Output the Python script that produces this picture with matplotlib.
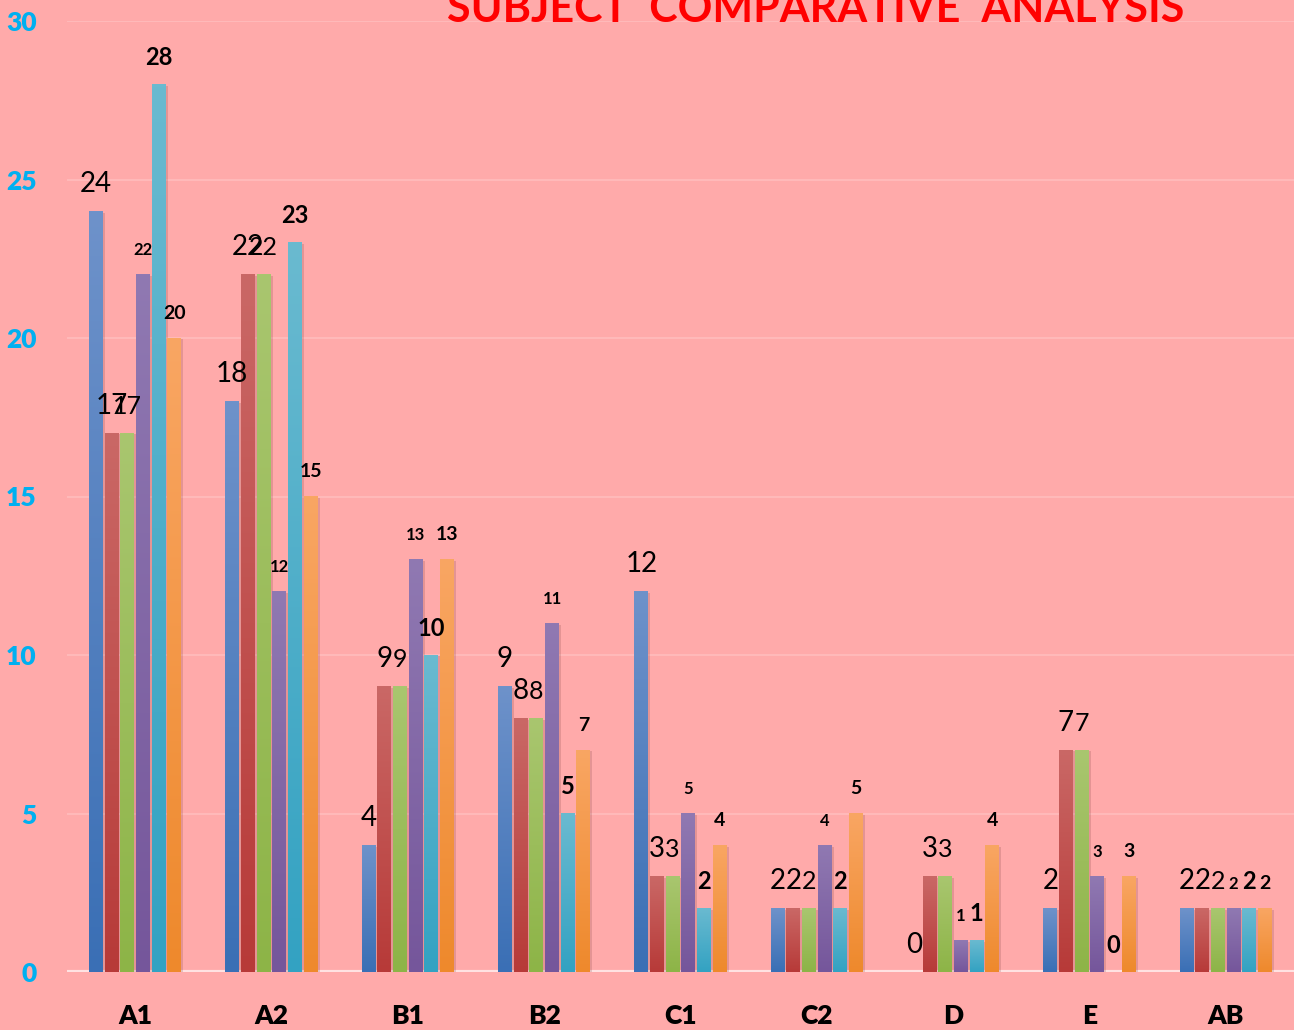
import matplotlib
matplotlib.use("Agg")
import matplotlib.pyplot as plt
import matplotlib.patheffects as pe
from matplotlib.colors import LinearSegmentedColormap
import numpy as np

plt.rcParams['font.family'] = ['Lato', 'DejaVu Sans']

categories = ['A1', 'A2', 'B1', 'B2', 'C1', 'C2', 'D', 'E', 'AB']
s1 = [24, 18, 4, 9, 12, 2, 0, 2, 2]
s2 = [17, 22, 9, 8, 3, 2, 3, 7, 2]
s3 = [17, 22, 9, 8, 3, 2, 3, 7, 2]
s4 = [22, 12, 13, 11, 5, 4, 1, 3, 2]
s5 = [28, 23, 10, 5, 2, 2, 1, 0, 2]
s6 = [20, 15, 13, 7, 4, 5, 4, 3, 2]
series = [s1, s2, s3, s4, s5, s6]

# (bottom colour, top colour) per series
grads = [('#3a6fb5', '#6e92ca'), ('#b73a38', '#ca6866'), ('#8db447', '#a9c66f'),
         ('#75569b', '#9079b2'), ('#33a2c2', '#6abad0'), ('#ee892c', '#f9a663')]
label_fmt = [dict(fontsize=20, fontweight='normal'), dict(fontsize=20, fontweight='normal'),
             dict(fontsize=18, fontweight='normal'), dict(fontsize=12, fontweight='bold'),
             dict(fontsize=17, fontweight='bold'), dict(fontsize=14, fontweight='bold')]

fig = plt.figure(figsize=(12.94, 10.30), dpi=100)
fig.patch.set_facecolor('#ffaaaa')
ax = fig.add_axes([67 / 1294, 58 / 1030, 1 - 67 / 1294, (972 - 21) / 1030])
ax.set_facecolor('#ffaaaa')

x = np.arange(len(categories))
slot = 0.115
bw = 0.102
grad = np.linspace(0, 1, 256).reshape(-1, 1)

for i, vals in enumerate(series):
    pos = x + (i - 2.5) * slot
    bars = ax.bar(pos, vals, width=bw, color=grads[i][0], zorder=3,
                  path_effects=[pe.SimplePatchShadow(offset=(1.5, -1), alpha=0.18, shadow_rgbFace='#6a3030'),
                                pe.Normal()])
    cmap = LinearSegmentedColormap.from_list('g%d' % i, list(grads[i]))
    for b, v in zip(bars, vals):
        if v > 0:
            ax.imshow(grad, extent=(b.get_x(), b.get_x() + b.get_width(), 0, v),
                      origin='lower', aspect='auto', cmap=cmap, zorder=4)
        ax.annotate(str(v), (b.get_x() + b.get_width() / 2, v), xytext=(0, 14),
                    textcoords='offset points', ha='center', va='baseline',
                    color='black', zorder=6, **label_fmt[i])

ax.set_xlim(-0.5, len(categories) - 0.5)
ax.set_ylim(0, 30)
ax.set_yticks(range(0, 31, 5))
ax.yaxis.grid(True, color='#ffbdbd', linewidth=1.2, zorder=0)
ax.axhline(0, color='#ffe2e2', linewidth=3, zorder=2)
for s in ax.spines.values():
    s.set_visible(False)
ax.tick_params(length=0)
ax.tick_params(axis='y', pad=22, labelcolor='#00b0f0', labelsize=19)
ax.tick_params(axis='x', pad=23, labelsize=19)
ax.set_xticks(x)
ax.set_xticklabels(categories, fontweight='heavy')
for t in ax.get_yticklabels():
    t.set_fontweight('heavy')

fig.text(816 / 1294, 1 - 22 / 1030, 'SUBJECT  COMPARATIVE  ANALYSIS', color='#ff0000',
         fontsize=31, fontweight='bold', ha='center', va='baseline')

fig.savefig('out.png', dpi=100, facecolor=fig.get_facecolor())
